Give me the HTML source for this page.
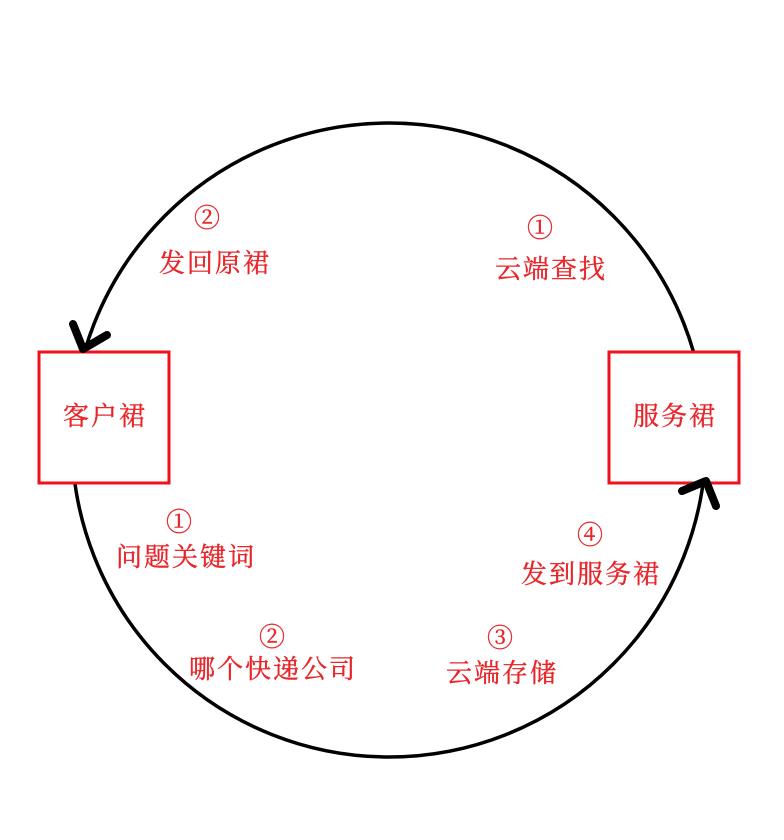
<!DOCTYPE html>
<html><head><meta charset="utf-8"><style>html,body{margin:0;padding:0;background:#fff}</style></head>
<body>
<svg width="784" height="840" xmlns="http://www.w3.org/2000/svg" style="display:block">
<circle cx="389" cy="440" r="317" fill="none" stroke="#000" stroke-width="3.5"/>
<rect x="39" y="352" width="130" height="131" fill="#fff" stroke="#f0101e" stroke-width="3"/>
<rect x="609" y="352" width="130" height="131" fill="#fff" stroke="#f0101e" stroke-width="3"/>
<g stroke="#000" stroke-width="8" stroke-linecap="round" stroke-linejoin="round" fill="none">
<polyline points="73,324 83,349 107,335"/>
<polyline points="682,491 706,481 716,506"/>
</g>
<g font-family="Liberation Serif, Noto Serif CJK SC, serif" font-size="26" fill="#e8262a" text-anchor="middle" stroke="#e8262a" stroke-width="0.4" letter-spacing="2">
<text x="105" y="425">客户裙</text>
<text x="675" y="425">服务裙</text>
<text x="208" y="227">②</text>
<text x="215" y="272">发回原裙</text>
<text x="541" y="237">①</text>
<text x="551" y="278">云端查找</text>
<text x="180" y="531">①</text>
<text x="186" y="566">问题关键词</text>
<text x="273" y="646">②</text>
<text x="273" y="678">哪个快递公司</text>
<text x="501" y="647">③</text>
<text x="502" y="682">云端存储</text>
<text x="591" y="544">④</text>
<text x="591" y="583">发到服务裙</text>
</g>
</svg>
</body></html>
